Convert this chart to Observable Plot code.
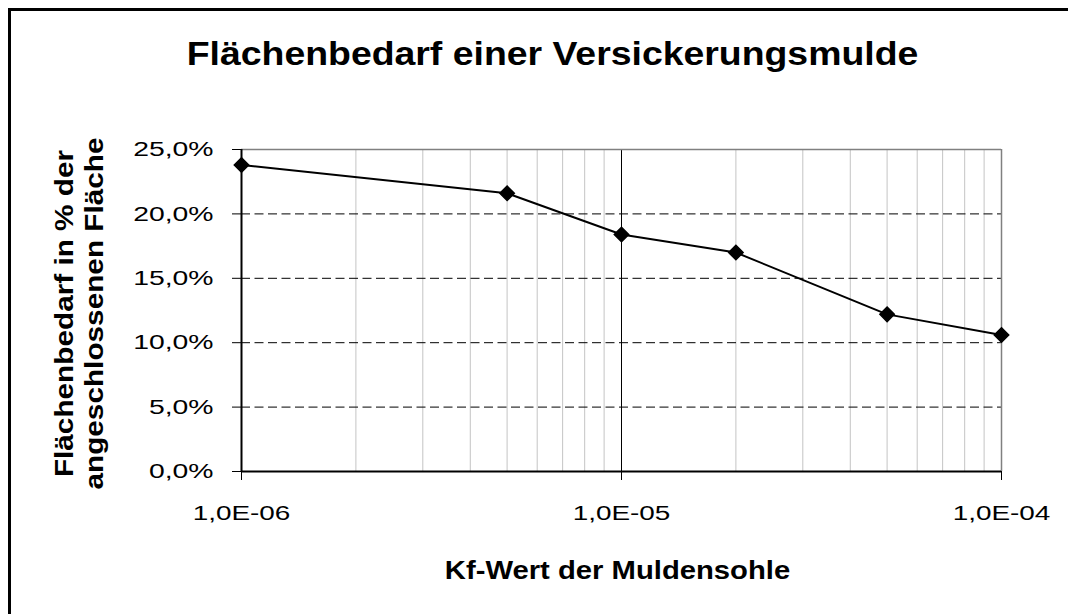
<!DOCTYPE html>
<html>
<head>
<meta charset="utf-8">
<script src="https://cdn.jsdelivr.net/npm/d3@7"></script>
<script src="https://cdn.jsdelivr.net/npm/@observablehq/plot@0.6"></script>
<style>
  html, body { margin: 0; padding: 0; background: #fff; overflow: hidden; }
  #wrap { position: relative; width: 1068px; height: 614px; }
  #border { position: absolute; left: 8px; top: 8px; width: 3000px; height: 3000px;
            border-left: 3px solid #000; border-top: 3px solid #000; pointer-events: none; }
</style>
</head>
<body>
<div id="wrap"><div id="chart"></div><div id="border"></div></div>
<script>
// ---- data ----
const kfValues   = [1e-6, 5e-6, 1e-5, 2e-5, 5e-5, 1e-4];
const flaechePct = [23.8, 21.6, 18.4, 17.0, 12.2, 10.6];

const xTickValues = [1e-6, 1e-5, 1e-4];
const xTickLabels = ["1,0E-06", "1,0E-05", "1,0E-04"];
const yTickValues = [0, 5, 10, 15, 20, 25];
const yTickLabels = ["0,0%", "5,0%", "10,0%", "15,0%", "20,0%", "25,0%"];
const minorGrid = [2e-6, 3e-6, 4e-6, 5e-6, 6e-6, 7e-6, 8e-6, 9e-6,
                   2e-5, 3e-5, 4e-5, 5e-5, 6e-5, 7e-5, 8e-5, 9e-5];
const dashedGrid = [5, 10, 15, 20];

const titleText  = "Flächenbedarf einer Versickerungsmulde";
const xTitleText = "Kf-Wert der Muldensohle";
const yTitleLines = ["Flächenbedarf in % der", "angeschlossenen Fläche"];

const data = kfValues.map((k, i) => ({kf: k, pct: flaechePct[i]}));

const plot = Plot.plot({
  width: 1068,
  height: 614,
  marginLeft: 241,
  marginRight: 67,
  marginTop: 149,
  marginBottom: 143,
  style: {fontFamily: "'Liberation Sans', Arial, sans-serif", fontSize: "21px", color: "#000", background: "#fff"},
  x: {type: "log", domain: [1e-6, 1e-4], axis: null},
  y: {domain: [0, 25], axis: null},
  marks: [
    Plot.ruleX(minorGrid, {stroke: "#c4c4c4", strokeWidth: 1}),
    Plot.ruleY(dashedGrid, {stroke: "#000", strokeWidth: 1, strokeDasharray: "9,4.5"}),
    Plot.ruleX([1e-5], {stroke: "#000", strokeWidth: 1}),
    Plot.ruleY([25], {stroke: "#808080", strokeWidth: 1.5}),
    Plot.ruleX([1e-4], {stroke: "#808080", strokeWidth: 1.5}),
    Plot.ruleX([1e-6], {stroke: "#000", strokeWidth: 2}),
    Plot.ruleY([0], {stroke: "#000", strokeWidth: 2}),
    Plot.axisY({ticks: yTickValues, tickFormat: (d) => yTickLabels[yTickValues.indexOf(d)],
                tickSize: 9, tickPadding: 19, label: null, fontSize: 21}),
    Plot.axisX({ticks: xTickValues, tickFormat: (d) => xTickLabels[xTickValues.findIndex(v => Math.abs(v - d) / v < 1e-6)],
                tickSize: 9, tickPadding: 25, label: null, fontSize: 21}),
    Plot.line(data, {x: "kf", y: "pct", stroke: "#000", strokeWidth: 2}),
    Plot.dot(data, {x: "kf", y: "pct", symbol: "diamond2", r: 6.5, fill: "#000", stroke: "#000"}),
    Plot.text([titleText], {frameAnchor: "top", lineAnchor: "top", dx: -69, dy: -109,
               fontSize: 34, fontWeight: "bold", fill: "#000"}),
    Plot.text([xTitleText], {frameAnchor: "bottom", lineAnchor: "top", dx: -4, dy: 90,
               fontSize: 25, fontWeight: "bold", fill: "#000"}),
    Plot.text([yTitleLines.join("\n")], {frameAnchor: "left", rotate: -90, textAnchor: "middle",
               lineAnchor: "middle", lineHeight: 1.2,
               dx: -163, dy: 3, fontSize: 25, fontWeight: "bold", fill: "#000"})
  ]
});
document.getElementById("chart").appendChild(plot);

// Excel-style font stretching along each text's own direction
function stretchFor(content) {
  if (content === titleText) return 1.1;
  if (content === xTitleText) return 1.17;
  if (content.startsWith(yTitleLines[0])) return 1.19;
  if (yTickLabels.includes(content)) return 1.35;
  if (xTickLabels.includes(content)) return 1.33;
  return null;
}
plot.querySelectorAll("text").forEach((t) => {
  const s = stretchFor(t.textContent);
  if (!s) return;
  const tr = t.getAttribute("transform") || "";
  t.setAttribute("transform", `${tr} scale(${s},1)`.trim());
});
</script>
</body>
</html>
